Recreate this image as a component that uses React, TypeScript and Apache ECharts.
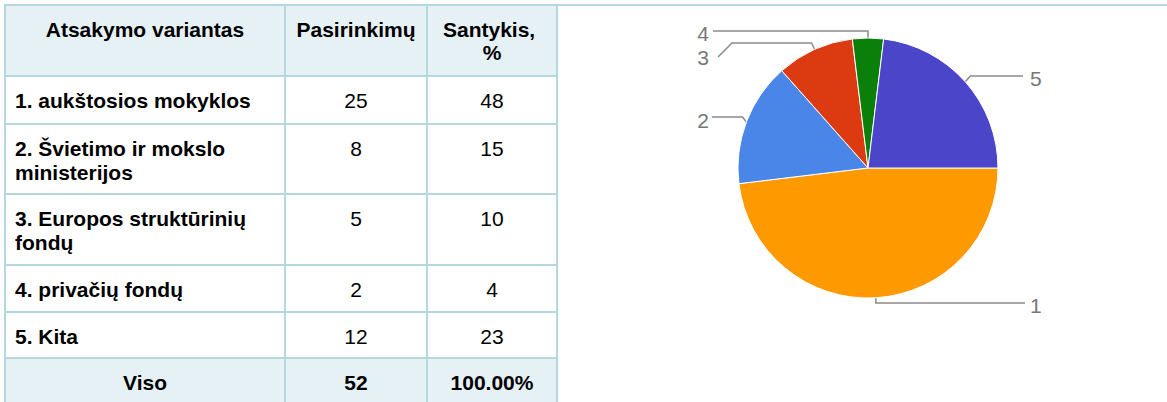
import React, { useEffect, useRef } from "react";
import * as echarts from "echarts";

// ---- data ----
const headers = ["Atsakymo variantas", "Pasirinkimų", "Santykis, %"];
const categories = [
  "1. aukštosios mokyklos",
  "2. Švietimo ir mokslo ministerijos",
  "3. Europos struktūrinių fondų",
  "4. privačių fondų",
  "5. Kita",
];
const sliceLabels = ["1", "2", "3", "4", "5"];
const counts = [25, 8, 5, 2, 12];
const percents = [48, 15, 10, 4, 23];
const totalLabel = "Viso";
const totalCount = "52";
const totalPercent = "100.00%";
const sliceColors = ["#ff9900", "#4a86e8", "#dc3b12", "#0a7f0a", "#4b45c9"];

// ---- layout (positions only) ----
const colX = [5, 285, 427, 557];
const rowY = [5, 76, 124, 194, 265, 312, 358, 406];
const BORDER = "#b5d7e0";
const HEAD_BG = "#e6f1f6";
const FONT = "'Liberation Sans', Arial, sans-serif";

// label placement for pie labels (Google-chart style callouts)
const labelPlacement = [
  { side: "right", dx: 0, lineY: 303, endX: 1025, labelX: 1030, labelY: 305 },
  { side: "left", dx: -4, lineY: 117, endX: 712, labelX: 709, labelY: 120 },
  { side: "left", dx: -3, lineY: 43, endX: 732, labelX: 709, labelY: 57, tail: [718, 57] },
  { side: "left", dx: 0, lineY: 31, endX: 713, labelX: 709, labelY: 33 },
  { side: "right", dx: 5, lineY: 76, endX: 1023, labelX: 1030, labelY: 78 },
];

function buildTable(): any[] {
  const els: any[] = [];
  const left = colX[0];
  const right = colX[colX.length - 1];
  // backgrounds
  els.push({
    type: "rect",
    shape: { x: left, y: rowY[0], width: right - left, height: rowY[1] - rowY[0] },
    style: { fill: HEAD_BG },
  });
  els.push({
    type: "rect",
    shape: { x: left, y: rowY[6], width: right - left, height: rowY[7] - rowY[6] },
    style: { fill: HEAD_BG },
  });
  // top line spans whole width
  els.push({
    type: "line",
    shape: { x1: 4, y1: rowY[0], x2: 1167, y2: rowY[0] },
    style: { stroke: BORDER, lineWidth: 2 },
  });
  for (let r = 1; r < rowY.length; r++) {
    els.push({
      type: "line",
      shape: { x1: left, y1: rowY[r], x2: right, y2: rowY[r] },
      style: { stroke: BORDER, lineWidth: 2 },
    });
  }
  for (const x of colX) {
    els.push({
      type: "line",
      shape: { x1: x, y1: rowY[0], x2: x, y2: rowY[rowY.length - 1] },
      style: { stroke: BORDER, lineWidth: 2 },
    });
  }
  const c1 = (colX[0] + colX[1]) / 2;
  const c2 = (colX[1] + colX[2]) / 2;
  const c3 = (colX[2] + colX[3]) / 2;
  const txt = (text: string, x: number, y: number, bold: boolean, align: string, width?: number, lh = 24) => {
    const style: any = {
      text,
      x,
      y,
      font: `${bold ? "bold " : ""}21px ${FONT}`,
      fill: "#000",
      align,
      textAlign: align,
      verticalAlign: "top",
      textVerticalAlign: "top",
      lineHeight: lh,
    };
    if (width) {
      style.width = width;
      style.overflow = "break";
    }
    els.push({ type: "text", x: 0, y: 0, style });
  };
  // header
  txt(headers[0], c1, rowY[0] + 13, true, "center", undefined, 23);
  txt(headers[1], c2, rowY[0] + 13, true, "center", undefined, 23);
  txt(headers[2], c3, rowY[0] + 13, true, "center", 100, 23);
  // body
  for (let i = 0; i < categories.length; i++) {
    const top = rowY[i + 1] + 12;
    txt(categories[i], colX[0] + 10, top, true, "left", 262);
    txt(String(counts[i]), c2, top, false, "center");
    txt(String(percents[i]), c3, top, false, "center");
  }
  const tTop = rowY[6] + 12;
  txt(totalLabel, c1, tTop, true, "center");
  txt(totalCount, c2, tTop, true, "center");
  txt(totalPercent, c3, tTop, true, "center");
  return els;
}

export default function App() {
  const ref = useRef<HTMLDivElement>(null);
  useEffect(() => {
    if (!ref.current) return;
    const chart = echarts.init(ref.current, undefined, { renderer: "svg" });
    chart.setOption({
      animation: false,
      backgroundColor: "#ffffff",
      graphic: { elements: buildTable() },
      series: [
        {
          type: "pie",
          center: [868, 168],
          radius: 130,
          startAngle: 0,
          clockwise: true,
          avoidLabelOverlap: false,
          silent: true,
          data: categories.map((name, i) => ({
            name,
            value: counts[i],
            itemStyle: { color: sliceColors[i] },
            label: { formatter: sliceLabels[i] },
          })),
          itemStyle: { borderColor: "#ffffff", borderWidth: 1 },
          label: {
            show: true,
            position: "outside",
            color: "#777777",
            fontSize: 21,
            fontFamily: FONT,
          },
          labelLine: {
            show: true,
            length: 8,
            length2: 40,
            smooth: false,
            lineStyle: { color: "#8a8a8a", width: 1.5 },
          },
          labelLayout: (params: any) => {
            const p: any = labelPlacement[params.dataIndex];
            const pts = params.labelLinePoints;
            if (!p || !pts) return {};
            const e = pts[0];
            const linePts: number[][] = [
              [e[0], e[1]],
              [e[0] + p.dx, p.lineY],
              [p.endX, p.lineY],
            ];
            if (p.tail) linePts.push(p.tail);
            return {
              x: p.labelX,
              y: p.labelY,
              align: p.side === "right" ? "left" : "right",
              verticalAlign: "middle",
              labelLinePoints: linePts,
            };
          },
        },
      ],
    });
    return () => chart.dispose();
  }, []);
  return (
    <div
      ref={ref}
      style={{ position: "absolute", left: 0, top: 0, width: 1167, height: 402 }}
    />
  );
}
